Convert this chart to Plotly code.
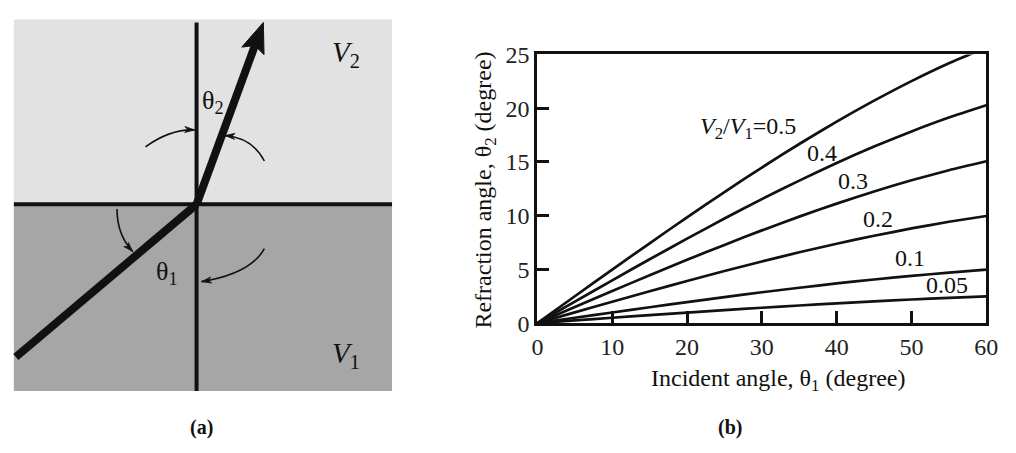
import math
import plotly.graph_objects as go

# ---------------- data ----------------
incident = [0, 5, 10, 15, 20, 25, 30, 35, 40, 45, 50, 55, 60]
series_labels = ["0.5", "0.4", "0.3", "0.2", "0.1", "0.05"]
refr_05 = [0, 2.50, 4.98, 7.43, 9.85, 12.20, 14.48, 16.67, 18.75, 20.70, 22.52, 24.18, 25.66]
refr_04 = [0, 2.00, 3.98, 5.94, 7.86, 9.73, 11.54, 13.26, 14.90, 16.43, 17.84, 19.13, 20.27]
refr_03 = [0, 1.50, 2.99, 4.45, 5.89, 7.28, 8.63, 9.91, 11.12, 12.25, 13.29, 14.23, 15.06]
refr_02 = [0, 1.00, 1.99, 2.97, 3.92, 4.85, 5.74, 6.59, 7.39, 8.13, 8.81, 9.43, 9.97]
refr_01 = [0, 0.50, 0.99, 1.48, 1.96, 2.42, 2.87, 3.29, 3.69, 4.06, 4.39, 4.70, 4.97]
refr_005 = [0, 0.25, 0.50, 0.74, 0.98, 1.21, 1.43, 1.64, 1.84, 2.03, 2.20, 2.35, 2.48]
x_ticks = [0, 10, 20, 30, 40, 50, 60]
y_ticks = [0, 5, 10, 15, 20, 25]
# label anchor positions (data coords) for the curve labels
label_x = [28.2, 38.0, 42.2, 45.5, 49.8, 54.8]
label_y = [18.2, 15.85, 13.2, 9.7, 6.05, 3.57]

W, H = 1016, 453
SERIF = "Liberation Serif"
INK = "#111111"

def X(p):
    return p / W

def Y(p):
    return 1 - p / H

fig = go.Figure()

all_series = [refr_05, refr_04, refr_03, refr_02, refr_01, refr_005]
for lab, ys in zip(series_labels, all_series):
    fig.add_trace(go.Scatter(x=incident, y=ys, mode="lines", name=lab,
                             line=dict(color=INK, width=2.7, shape="spline", smoothing=0.6),
                             showlegend=False, hoverinfo="skip"))

# ---------------- panel (a) diagram in pixel coordinates ----------------
LEFT, RIGHT, TOP, BOTTOM = 8, 393, 7, 401
IFACE_Y = 203
NORMAL_X = 194
shapes = []

def line(x0, y0, x1, y1, width):
    shapes.append(dict(type="line", xref="paper", yref="paper", x0=X(x0), y0=Y(y0),
                       x1=X(x1), y1=Y(y1), line=dict(color=INK, width=width)))

def poly(points, fill=INK, width=0.8):
    d = "M " + " L ".join(f"{X(a):.5f},{Y(b):.5f}" for a, b in points) + " Z"
    shapes.append(dict(type="path", xref="paper", yref="paper", path=d,
                       fillcolor=fill, line=dict(color=fill, width=width)))

shapes.append(dict(type="rect", xref="paper", yref="paper", x0=X(LEFT), x1=X(RIGHT),
                   y0=Y(TOP), y1=Y(IFACE_Y), fillcolor="#e2e2e2", line=dict(width=0), layer="below"))
shapes.append(dict(type="rect", xref="paper", yref="paper", x0=X(LEFT), x1=X(RIGHT),
                   y0=Y(IFACE_Y), y1=Y(BOTTOM), fillcolor="#a6a6a6", line=dict(width=0), layer="below"))
line(LEFT, IFACE_Y, RIGHT, IFACE_Y, 4)
line(NORMAL_X, 10, NORMAL_X, BOTTOM, 4)
line(10, 365, NORMAL_X, IFACE_Y, 8)  # incident ray

# refracted ray with arrowhead
tip = (262, 10)
dx, dy = tip[0] - NORMAL_X, tip[1] - IFACE_Y
L = math.hypot(dx, dy)
ux, uy = dx / L, dy / L
nx, ny = -uy, ux
head_len, head_w, notch = 32, 12, 6
bx, by = tip[0] - head_len * ux, tip[1] - head_len * uy
line(NORMAL_X, IFACE_Y, bx + 6 * ux, by + 6 * uy, 8)
poly([tip, (bx + head_w * nx, by + head_w * ny), (bx + notch * ux, by + notch * uy),
      (bx - head_w * nx, by - head_w * ny)], width=1)

# curved angle arrows: (start, control, end)
arcs = [
    ((142, 142), (167, 123), (192, 124)),
    ((263, 157), (251, 132.5), (223, 130)),
    ((113, 208), (113, 235.5), (129, 253)),
    ((263, 250), (249, 276.5), (199, 285)),
]
for s, c, e in arcs:
    shapes.append(dict(type="path", xref="paper", yref="paper",
                       path=f"M {X(s[0]):.5f},{Y(s[1]):.5f} Q {X(c[0]):.5f},{Y(c[1]):.5f} {X(e[0]):.5f},{Y(e[1]):.5f}",
                       line=dict(color=INK, width=1.6)))
    ddx, ddy = e[0] - c[0], e[1] - c[1]
    ll = math.hypot(ddx, ddy)
    ax_, ay_ = ddx / ll, ddy / ll
    px_, py_ = -ay_, ax_
    hl, hw = 10, 3.2
    bx2, by2 = e[0] - hl * ax_, e[1] - hl * ay_
    poly([e, (bx2 + hw * px_, by2 + hw * py_), (bx2 + 3 * ax_, by2 + 3 * ay_),
          (bx2 - hw * px_, by2 - hw * py_)])

annotations = []
def px_text(x, y, text, size, **kw):
    d = dict(xref="paper", yref="paper", x=X(x), y=Y(y), text=text, showarrow=False,
             font=dict(family=SERIF, size=size, color=INK), xanchor="center", yanchor="middle")
    d.update(kw)
    annotations.append(d)

px_text(211, 94, "θ<sub>2</sub>", 26)
px_text(164, 276, "θ<sub>1</sub>", 26)
px_text(346, 43, "<i>V</i><sub>2</sub>", 29)
px_text(346, 363, "<i>V</i><sub>1</sub>", 29)

# panel captions
px_text(199, 440, "<b>(a)</b>", 20)
px_text(737, 440, "<b>(b)</b>", 20)

# axis titles of panel (b)
px_text(786, 389, "Incident angle, θ<sub>1</sub> (degree)", 24)
px_text(488, 188, "Refraction angle, θ<sub>2</sub> (degree)", 24, textangle=-90)

# curve labels in data coordinates
label_text = ["<i>V</i><sub>2</sub>/<i>V</i><sub>1</sub>=0.5"] + series_labels[1:]
for t, lx, ly in zip(label_text, label_x, label_y):
    annotations.append(dict(xref="x", yref="y", x=lx, y=ly, text=t, showarrow=False,
                            font=dict(family=SERIF, size=24, color=INK),
                            xanchor="center", yanchor="middle"))

PX0, PX1, PY0, PY1 = 541, 998, 44, 329
axis_common = dict(showgrid=False, zeroline=False, ticks="inside", ticklen=12, tickwidth=2.5,
                   tickcolor=INK, showline=True, linecolor=INK, linewidth=3, mirror=True,
                   tickfont=dict(family=SERIF, size=24, color="#222222"))

fig.update_layout(
    width=W, height=H, margin=dict(l=0, r=0, t=0, b=0),
    paper_bgcolor="white", plot_bgcolor="white",
    xaxis=dict(domain=[PX0 / W, PX1 / W], range=[0, 60], tickvals=x_ticks, **axis_common),
    yaxis=dict(domain=[1 - PY1 / H, 1 - PY0 / H], range=[0, 25], tickvals=y_ticks, **axis_common),
    shapes=shapes, annotations=annotations,
)

fig.write_html("out.html")
